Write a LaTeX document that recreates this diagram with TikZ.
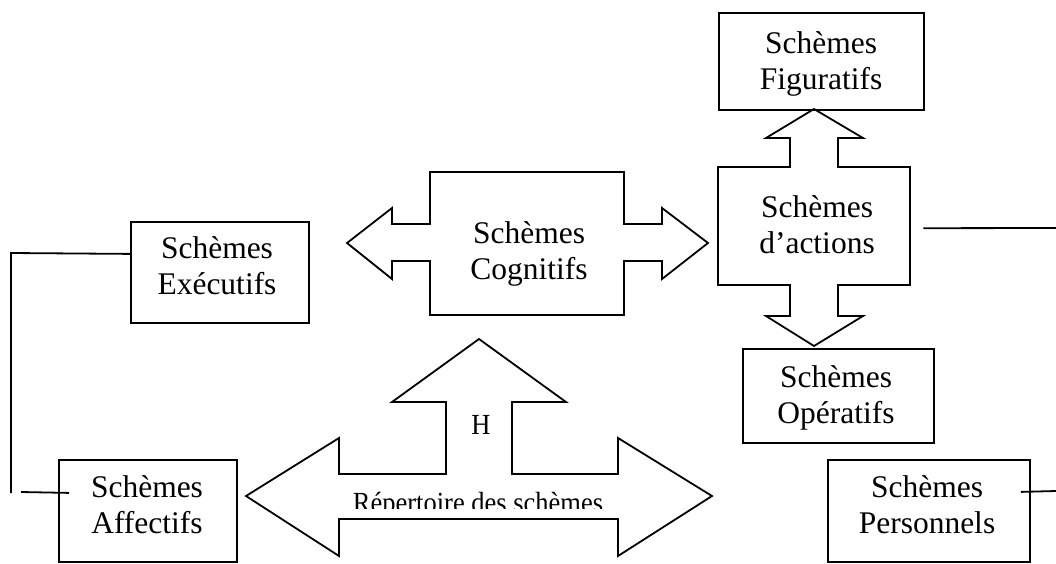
\documentclass[tikz,border=0pt]{standalone}
\usepackage{fontspec}
\setmainfont{Liberation Serif}
\begin{document}
\begin{tikzpicture}[x=1pt,y=-1pt,
  ln/.style={line width=1.8pt, line join=miter},
  box/.style={draw, line width=1.8pt, inner sep=0pt, anchor=north west},
  hold/.style={inner sep=0pt, anchor=north west},
  lbl/.style={font=\fontsize{31.5}{36}\selectfont, align=center, inner sep=0pt, anchor=north},
  small/.style={font=\fontsize{26.5}{30}\selectfont, inner sep=0pt, anchor=base}]
\useasboundingbox (0,0) rectangle (1056,563);

% simple boxes
\node[box, minimum width=205pt, minimum height=97pt]  (fig)  at (718,12)  {};
\node[box, minimum width=178pt, minimum height=101pt] (exe)  at (130,221) {};
\node[box, minimum width=191pt, minimum height=94pt]  (ope)  at (742,348) {};
\node[box, minimum width=178pt, minimum height=102pt] (aff)  at (58,459)  {};
\node[box, minimum width=202pt, minimum height=102pt] (pers) at (827,459) {};
% frames of the compound shapes
\node[hold, minimum width=192pt, minimum height=118pt] (act) at (718,167) {};
\node[hold, minimum width=194pt, minimum height=143pt] (cog) at (430,172) {};

% Schèmes d'actions with double vertical arrow
\draw[ln] (814,109) -- (863,138) -- (838,138) -- (838,167) -- (910,167) -- (910,285)
  -- (838,285) -- (838,316) -- (863,316) -- (814,346) -- (766,316) -- (790,316)
  -- (790,285) -- (718,285) -- (718,167) -- (790,167) -- (790,138) -- (766,138) -- cycle;

% Schèmes Cognitifs with double horizontal arrow
\draw[ln] (347,243) -- (392,208) -- (392,224) -- (430,224) -- (430,172) -- (624,172)
  -- (624,224) -- (662,224) -- (662,208) -- (708,243) -- (662,279) -- (662,261)
  -- (624,261) -- (624,315) -- (430,315) -- (430,261) -- (392,261) -- (392,279) -- cycle;

% Répertoire des schèmes arrow
\draw[ln] (246,496) -- (339,438) -- (339,474) -- (446,474) -- (446,402) -- (392,402)
  -- (479,339) -- (566,402) -- (512,402) -- (512,474) -- (618,474) -- (618,438)
  -- (712,496) -- (618,556) -- (618,519) -- (339,519) -- (339,556) -- cycle;

% texts
\node[lbl] (figt)  at (821,31.5)  {Schèmes\\Figuratifs};
\node[lbl] (actt)  at (817,195.5) {Schèmes\\d’actions};
\node[lbl] (cogt)  at (529,221.5) {Schèmes\\Cognitifs};
\node[lbl] (exet)  at (217,236.5) {Schèmes\\Exécutifs};
\node[lbl] (opet)  at (836,365.5) {Schèmes\\Opératifs};
\node[lbl] (afft)  at (147,475.5) {Schèmes\\Affectifs};
\node[lbl] (perst) at (927,475.5) {Schèmes\\Personnels};
\node[small] (ht) at (481,434) {\scalebox{1}[1.1]{H}};
\begin{scope}
  \clip (300,470) rectangle (660,508);
  \node[small] (rep) at (478,512) {\scalebox{1}[1.1]{Répertoire des schèmes}};
\end{scope}

% connectors
\coordinate (lt) at (11,253);
\coordinate (lb) at (11,493);
\coordinate (la) at (21,492);
\coordinate (ar) at (1056,228);
\coordinate (pr) at (1056,491);
\draw[ln] ([yshift=18.5pt]exe.west) -- (lt) -- (lb);
\draw[ln] (la) -- ([xshift=11pt,yshift=18pt]aff.west);
\draw[ln] ([xshift=13pt,yshift=-2pt]act.east) -- (ar);
\draw[ln] ([xshift=-10pt,yshift=19pt]pers.east) -- (pr);
\end{tikzpicture}
\end{document}
